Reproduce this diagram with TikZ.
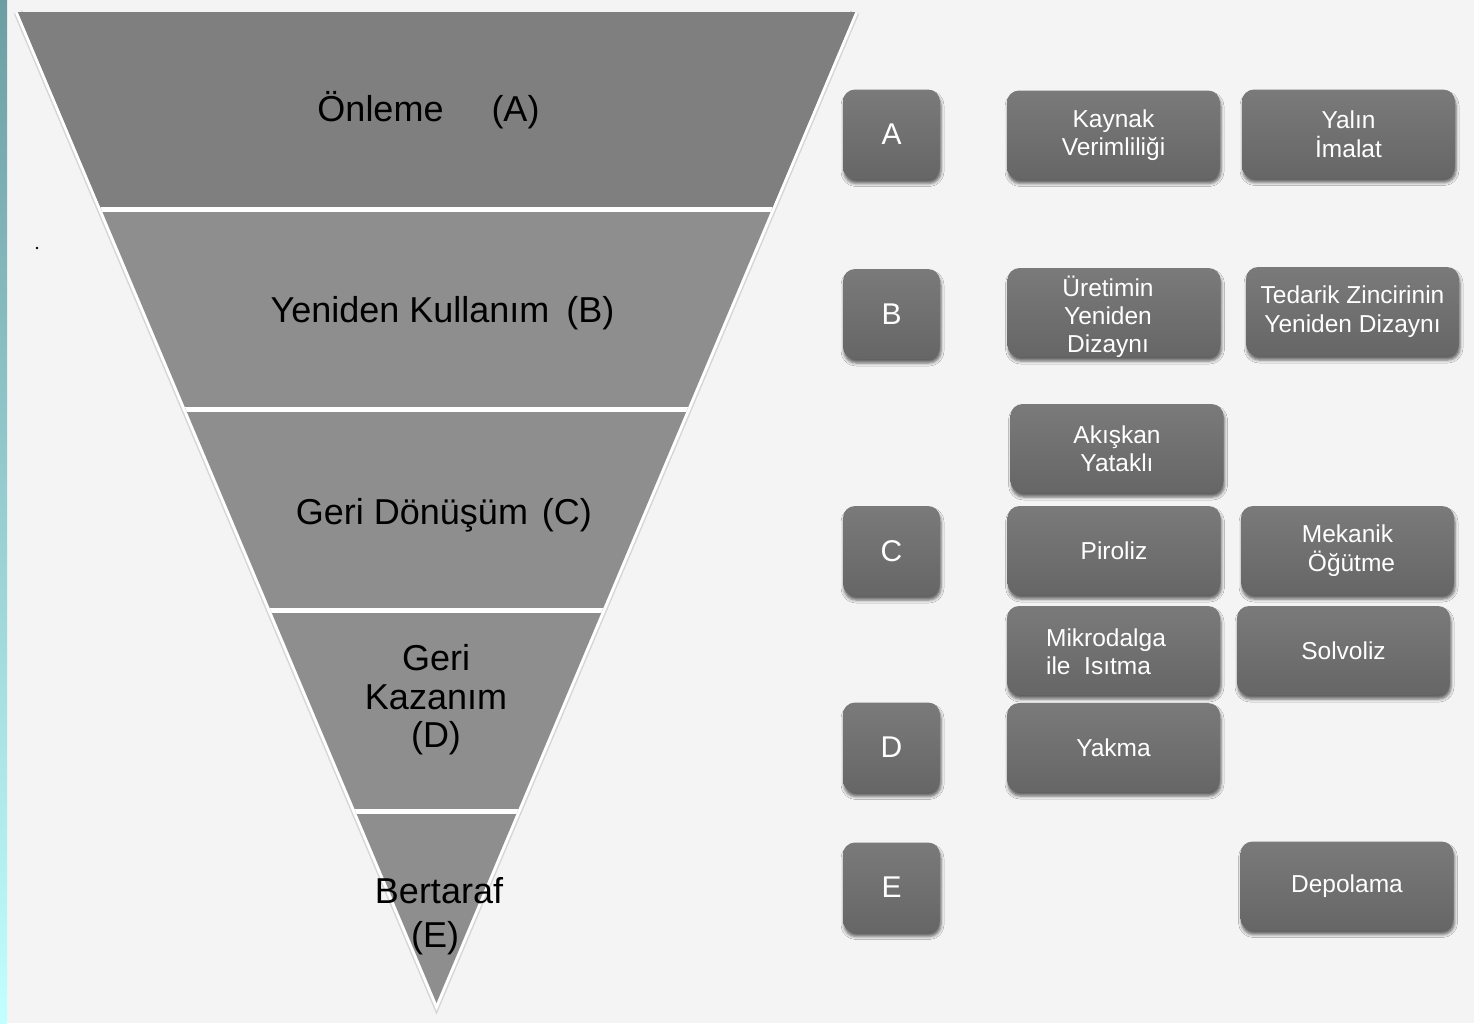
\documentclass[tikz,border=0pt]{standalone}
\usepackage{fontspec}
\setmainfont{Liberation Sans}
\usetikzlibrary{shadows.blur}
\definecolor{bg}{HTML}{F4F4F4}
\definecolor{bandA}{HTML}{7F7F7F}
\definecolor{bandB}{HTML}{8E8E8E}
\definecolor{edgegray}{HTML}{D6D6D6}
\definecolor{boxtop}{HTML}{7A7A7A}
\definecolor{boxbot}{HTML}{666666}
\definecolor{stripTop}{HTML}{6C9DA2}
\definecolor{stripBot}{HTML}{C2FFFF}
\begin{document}
\begin{tikzpicture}[x=1pt,y=-1pt,
  trilabel/.style={text=black, font=\fontsize{36}{40}\selectfont, inner sep=0pt, anchor=base},
  boxbase/.style={rounded corners=12pt, top color=boxtop, bottom color=boxbot, draw=none,
     text=white, align=center, inner sep=0pt,
     blur shadow={shadow xshift=1pt, shadow yshift=-4pt, shadow blur radius=3pt, shadow opacity=60}},
  letterbox/.style={boxbase, minimum width=97pt, minimum height=90pt, font=\fontsize{30}{34}\selectfont},
  itembox/.style={boxbase, minimum width=213pt, minimum height=89pt, font=\fontsize{24.5}{28.5}\selectfont},
  itemtext/.style={text=white, align=center, inner sep=0pt, font=\fontsize{24.5}{28}\selectfont}
]
\useasboundingbox (0,0) rectangle (1474,1023);
\fill[bg] (0,0) rectangle (1474,1023);
\shade[top color=stripTop, bottom color=stripBot] (0,0) rectangle (7,1023);
\fill[black] (37,248) circle (1.3pt);

% inverted triangle
\coordinate (tl) at (18,12);
\coordinate (tr) at (855,12);
\coordinate (ap) at (436.5,1003);
\draw[line width=9pt, edgegray, line join=miter] (tl) -- (ap) -- (tr);
\draw[line width=6pt, white, line join=miter] (tl) -- (ap) -- (tr);
\begin{scope}
  \clip (tl) -- (tr) -- (ap) -- cycle;
  \fill[bandB] (0,0) rectangle (900,1023);
  \fill[bandA] (0,0) rectangle (900,209);
  \foreach \yy in {209,409,610,811} \draw[white, line width=5pt] (0,\yy) -- (900,\yy);
\end{scope}

% triangle labels
\node[trilabel] (lA) at (428.5,121) {Önleme\hspace{48pt}(A)};
\node[trilabel] (lB) at (442.5,322) {Yeniden Kullanım\hspace{17pt}(B)};
\node[trilabel] (lC) at (444,524) {Geri Dönüşüm\hspace{14pt}(C)};
\node[trilabel] (lD1) at (436,670) {Geri};
\node[trilabel] (lD2) at (436,709) {Kazanım};
\node[trilabel] (lD3) at (436,747) {(D)};
\node[trilabel] (lE1) at (439,903) {Bertaraf};
\node[trilabel] (lE2) at (435,947) {(E)};

% letter boxes
\node[letterbox] (A) at (891.5,134.5) {A};
\node[letterbox] (B) at (891.5,314) {B};
\node[letterbox] (C) at (891.5,551) {C};
\node[letterbox] (D) at (891.5,747.5) {D};
\node[letterbox] (E) at (891.5,887.5) {E};

% item boxes
\node[itembox] (kaynak) at (1113.5,135) {Kaynak\\Verimliliği};
\node[itembox] (yalin) at (1348.5,134) {Yalın\\İmalat};
\node[itembox] (uretim) at (1114,312.5) {};
\node[itemtext] (uretimt) at (1108,317) {Üretimin\\Yeniden\\Dizaynı};
\node[itembox] (tedarik) at (1352.5,311.5) {Tedarik Zincirinin\\Yeniden Dizaynı};
\node[itembox] (akiskan) at (1117,448.5) {Akışkan\\Yataklı};
\node[itembox] (piroliz) at (1114,550.5) {Piroliz};
\node[itembox] (mekanik) at (1347.5,550.5) {Mekanik\\\hspace*{8pt}Öğütme};
\node[itembox] (mikro) at (1113.5,650.5) {};
\node[itemtext, align=left] (mikrot) at (1106,652) {Mikrodalga\\ile\ \ Isıtma};
\node[itembox] (solvoliz) at (1343.5,650.5) {Solvoliz};
\node[itembox] (yakma) at (1113.5,747.5) {Yakma};
\node[itembox] (depolama) at (1347,886) {Depolama};
\end{tikzpicture}
\end{document}
